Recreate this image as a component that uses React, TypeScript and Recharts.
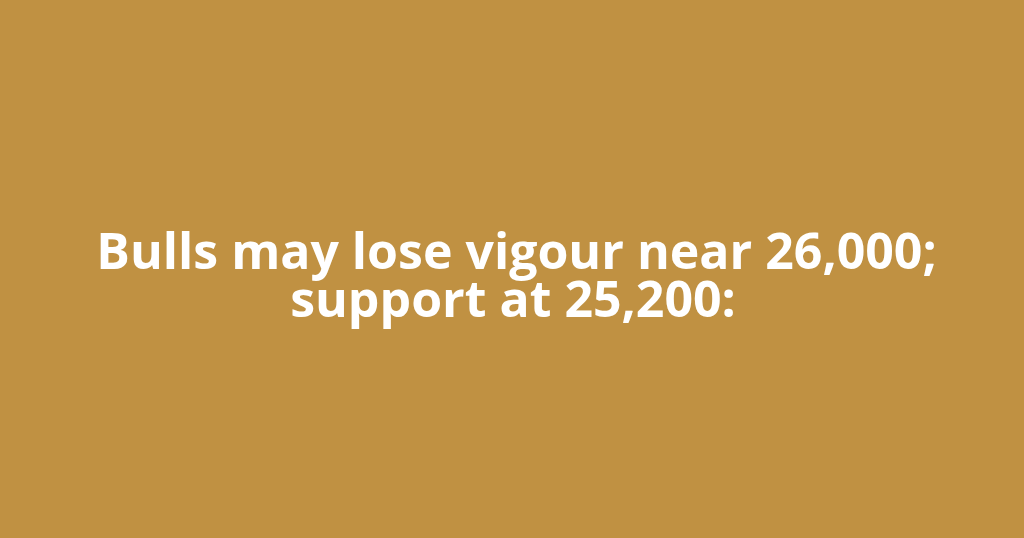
import { Surface, Text } from 'recharts';

const WIDTH = 1024;
const HEIGHT = 538;
const BG = '#c09142';

const titleLines = ['Bulls may lose vigour near 26,000;', 'support at 25,200:'];
const lineBaselines = [269, 317];
const lineCenters = [516.5, 513];

export default function App() {
  return (
    <div style={{ position: 'fixed', left: 0, top: 0, width: WIDTH, height: HEIGHT, background: BG }}>
      <Surface width={WIDTH} height={HEIGHT} viewBox={{ x: 0, y: 0, width: WIDTH, height: HEIGHT }}>
        <rect x={0} y={0} width={WIDTH} height={HEIGHT} fill={BG} />
        {titleLines.map((line, i) => (
          <Text
            key={line}
            x={lineCenters[i]}
            y={lineBaselines[i]}
            textAnchor="middle"
            verticalAnchor="end"
            fill="#ffffff"
            style={{ fontFamily: '"Open Sans", sans-serif', fontWeight: 700, fontSize: 50 }}
          >
            {line}
          </Text>
        ))}
      </Surface>
    </div>
  );
}
